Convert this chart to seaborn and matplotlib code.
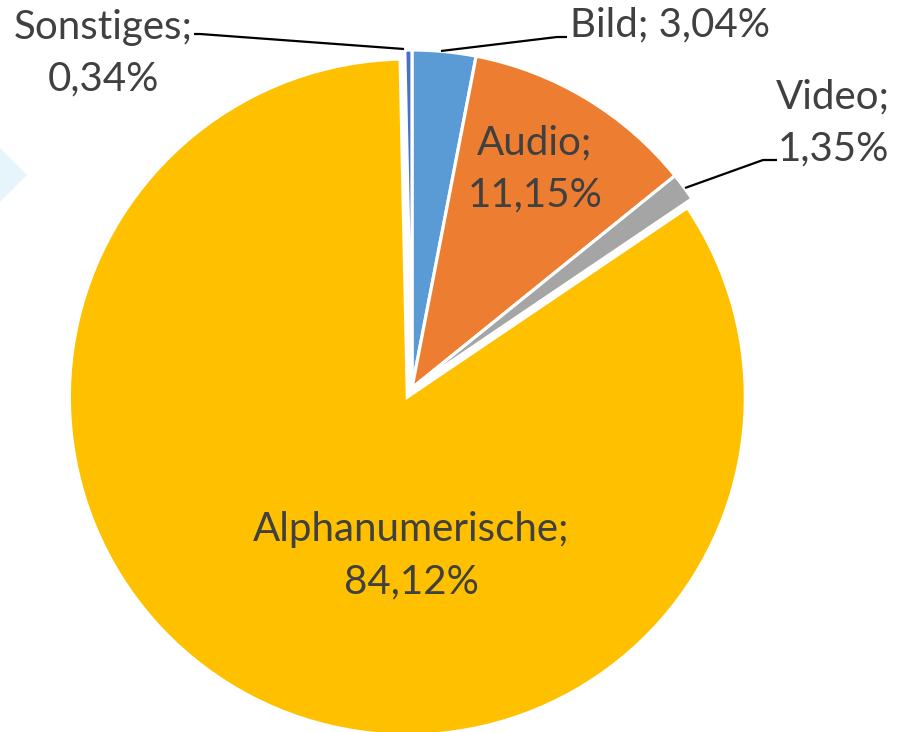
import matplotlib
matplotlib.use("Agg")
import matplotlib.pyplot as plt
import seaborn as sns
from matplotlib.patches import Polygon

sns.set_theme(style="white")
plt.rcParams['font.family'] = ['Lato', 'DejaVu Sans']

categories = ["Bild", "Audio", "Video", "Alphanumerische", "Sonstiges"]
values = [3.04, 11.15, 1.35, 84.12, 0.34]
colors = ["#5B9BD5", "#ED7D31", "#A5A5A5", "#FFC000", "#4472C4"]
explode = [0, 0, 0, 0.03, 0]

W, H = 897, 732
fig = plt.figure(figsize=(W / 100, H / 100), dpi=100)

# pie axes (pixel geometry: center 412,388; radius 338)
cx, cy, r = 412, 388, 338
ext = 1.25
pax = fig.add_axes([(cx - r * ext) / W, (H - cy - r * ext) / H, 2 * r * ext / W, 2 * r * ext / H])
pax.set_xlim(-ext, ext)
pax.set_ylim(-ext, ext)
pax.axis("off")
wedges, _ = pax.pie(values, colors=colors, startangle=90, counterclock=False, explode=explode,
                    radius=1, wedgeprops=dict(edgecolor="white", linewidth=2.3))

# overlay axes in pixel coordinates
ax = fig.add_axes([0, 0, 1, 1], zorder=5)
ax.set_xlim(0, W)
ax.set_ylim(H, 0)
ax.axis("off")
ax.patch.set_alpha(0)

# decorative light-blue shape at left edge
ax.add_patch(Polygon([[0, 148], [27, 175], [0, 202]], closed=True, color="#E6F4FB", lw=0, zorder=0))

def fmt(v):
    return f"{v:.2f}".replace(".", ",") + "%"

tc = "#404040"
fs = 29
ls = 1.5
lab = dict(zip(categories, values))

ax.text(103, 53, f"Sonstiges;\n{fmt(lab['Sonstiges'])}", ha="center", va="center", fontsize=fs,
        color=tc, linespacing=ls)
ax.text(670, 25, f"Bild; {fmt(lab['Bild'])}", ha="center", va="center", fontsize=fs, color=tc)
ax.text(833, 123, f"Video;\n{fmt(lab['Video'])}", ha="center", va="center", fontsize=fs,
        color=tc, linespacing=ls)
ax.text(535, 169, f"Audio;\n{fmt(lab['Audio'])}", ha="center", va="center", fontsize=fs,
        color=tc, linespacing=ls)
ax.text(411, 556, f"Alphanumerische;\n{fmt(lab['Alphanumerische'])}", ha="center", va="center",
        fontsize=fs, color=tc, linespacing=ls)

# leader lines
lk = dict(color="black", lw=1.6, solid_capstyle="butt")
ax.plot([194, 200, 404], [34, 34, 49], **lk)
ax.plot([441, 557, 567], [51, 37, 37], **lk)
ax.plot([685, 763, 777], [188, 160, 160], **lk)

fig.savefig("out.png", dpi=100)
